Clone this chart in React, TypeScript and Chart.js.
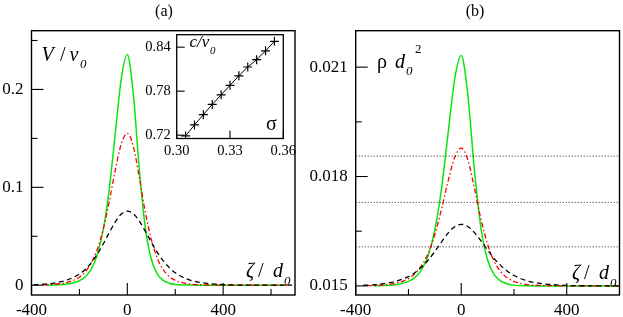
import { useEffect, useRef } from 'react';
import { Chart, registerables } from 'chart.js';
Chart.register(...registerables);

const SERIF = '"Liberation Serif", "Times New Roman", Times, serif';

// ---------- panel (a): V / v0 versus zeta / d0 ----------
const zetaA = [-392, -350, -337, -300, -250, -200, -175, -150, -125, -100, -75, -50, -25, 0, 25, 50, 75, 100, 125, 150, 175, 200, 250, 300, 400, 500, 600, 660, 675, 688];
const velBlack = [0.0004, 0.0011, 0.0013, 0.0025, 0.0054, 0.0114, 0.0164, 0.0231, 0.0318, 0.0423, 0.0539, 0.0648, 0.0727, 0.0757, 0.073, 0.0655, 0.0552, 0.0441, 0.0336, 0.0249, 0.018, 0.0128, 0.0062, 0.003, 0.0006, 0.0001, 0, 0, 0, 0];
const velRed = [null, 0.0003, 0.0004, 0.001, 0.0029, 0.0082, 0.0138, 0.023, 0.0369, 0.0579, 0.086, 0.1178, 0.1445, 0.1552, 0.142, 0.1101, 0.0748, 0.0469, 0.0276, 0.0158, 0.0089, 0.005, 0.0015, 0.0005, 0.0001, 0, 0, 0, 0, null];
const velGreen = [null, null, 0.0001, 0.0003, 0.0012, 0.0046, 0.0087, 0.0167, 0.0314, 0.0572, 0.099, 0.1555, 0.2114, 0.2357, 0.1955, 0.1186, 0.059, 0.0265, 0.0115, 0.0049, 0.002, 0.0008, 0.0001, 0, 0, 0, 0, 0, null, null];
const xTicksA = [-400, 0, 400];
const xTickLabelsA = ['-400', '0', '400'];
const xMinorA = [-200, 200, 600];
const yTicksA = [0, 0.1, 0.2];
const yTickLabelsA = ['0', '0.1', '0.2'];
const yMinorA = [0.05, 0.15, 0.25];

// ---------- panel (b): rho d0^2 versus zeta / d0 ----------
const zetaB = [-371, -358, -333, -300, -250, -200, -175, -150, -125, -100, -75, -50, -25, 0, 25, 50, 75, 100, 125, 150, 175, 200, 250, 300, 400, 500, 600];
const rhoBlack = [0.015018, 0.01502, 0.015029, 0.015056, 0.015121, 0.015255, 0.015366, 0.015516, 0.01571, 0.015944, 0.016203, 0.016447, 0.016623, 0.01669, 0.01663, 0.016462, 0.016232, 0.015985, 0.01575, 0.015556, 0.015402, 0.015286, 0.015138, 0.015067, 0.015013, 0.015002, 0.015];
const rhoRed = [null, 0.015007, 0.01501, 0.015024, 0.015071, 0.0152, 0.015336, 0.01556, 0.015899, 0.01641, 0.017095, 0.017869, 0.018519, 0.01878, 0.018459, 0.017682, 0.016822, 0.016142, 0.015672, 0.015385, 0.015217, 0.015122, 0.015037, 0.015012, 0.015002, 0.015, 0.015];
const rhoGreen = [null, null, 0.015003, 0.015008, 0.015032, 0.015123, 0.015233, 0.015448, 0.015842, 0.016534, 0.017654, 0.019169, 0.020668, 0.02132, 0.020242, 0.01818, 0.016582, 0.015711, 0.015308, 0.015131, 0.015054, 0.015021, 0.015003, 0.015, 0.015, 0.015, 0.015];
const rhoLevels = [0.01856, 0.01729, 0.01607];
const levelSpan = [-400, 600];
const xTicksB = [-400, 0, 400];
const xTickLabelsB = ['-400', '0', '400'];
const xMinorB = [-200, 200];
const yTicksB = [0.015, 0.018, 0.021];
const yTickLabelsB = ['0.015', '0.018', '0.021'];
const yMinorB = [0.0165, 0.0195];

// ---------- inset: c / v0 versus sigma ----------
const sigma = [0.305, 0.31, 0.315, 0.32, 0.325, 0.33, 0.335, 0.34, 0.345, 0.35, 0.355];
const speed = [0.719, 0.734, 0.748, 0.762, 0.775, 0.788, 0.801, 0.813, 0.823, 0.835, 0.848];
const xTicksIn = [0.30, 0.33, 0.36];
const xTickLabelsIn = ['0.30', '0.33', '0.36'];
const yTicksIn = [0.72, 0.78, 0.84];
const yTickLabelsIn = ['0.72', '0.78', '0.84'];

type Run = { t: string; x: number; y: number; size: number; italic?: boolean; align?: CanvasTextAlign };
type Deco = {
  xMajor: number[]; xMinor: number[]; yMajor: number[]; yMinor: number[];
  major: number; minor: number; frame: number; runs: Run[];
};

function decoPlugin(d: Deco) {
  return {
    id: 'deco',
    afterDraw(chart: any) {
      const { ctx, chartArea: a, scales } = chart;
      const xs = scales.x;
      const ys = scales.y;
      ctx.save();
      ctx.strokeStyle = '#000';
      ctx.lineWidth = 1.1;
      const xt: [number[], number][] = [[d.xMajor, d.major], [d.xMinor, d.minor]];
      for (const [list, len] of xt) {
        for (const v of list) {
          const px = xs.getPixelForValue(v);
          ctx.beginPath();
          ctx.moveTo(px, a.bottom);
          ctx.lineTo(px, a.bottom - len);
          ctx.stroke();
        }
      }
      const yt: [number[], number][] = [[d.yMajor, d.major], [d.yMinor, d.minor]];
      for (const [list, len] of yt) {
        for (const v of list) {
          const py = ys.getPixelForValue(v);
          ctx.beginPath();
          ctx.moveTo(a.left, py);
          ctx.lineTo(a.left + len, py);
          ctx.stroke();
        }
      }
      ctx.lineWidth = d.frame;
      ctx.strokeRect(a.left, a.top, a.right - a.left, a.bottom - a.top);
      ctx.fillStyle = '#000';
      ctx.textBaseline = 'alphabetic';
      for (const r of d.runs) {
        ctx.font = `${r.italic ? 'italic ' : ''}${r.size}px ${SERIF}`;
        ctx.textAlign = r.align || 'left';
        ctx.fillText(r.t, r.x, r.y);
      }
      ctx.restore();
    },
  };
}

function axis(min: number, max: number, ticks: number[], labels: string[], size: number, pad: number, fit: (s: any) => void) {
  return {
    type: 'linear' as const,
    min,
    max,
    grid: { display: false, drawTicks: false },
    border: { display: false },
    ticks: {
      padding: pad,
      color: '#000',
      autoSkip: false,
      maxRotation: 0,
      font: { size, family: SERIF },
      callback: (_v: any, i: number) => labels[i],
    },
    afterBuildTicks: (s: any) => {
      s.ticks = ticks.map((v) => ({ value: v }));
    },
    afterFit: fit,
  };
}

function lineDs(xs: number[], ys: (number | null)[], color: string, dash: number[], width: number) {
  return {
    data: xs.map((x, i) => ({ x, y: ys[i] })),
    borderColor: color,
    borderDash: dash,
    borderWidth: width,
    pointRadius: 0,
    fill: false,
    cubicInterpolationMode: 'monotone' as const,
  };
}

const BLACK_DASH = [5, 3.5];
const RED_DASH = [5, 2.5, 1.5, 2.5];
const GREEN = 'rgb(10,230,10)';

export default function App() {
  const refA = useRef<HTMLCanvasElement>(null);
  const refB = useRef<HTMLCanvasElement>(null);
  const refI = useRef<HTMLCanvasElement>(null);

  useEffect(() => {
    const common = {
      responsive: false,
      animation: false as const,
      devicePixelRatio: 1,
      plugins: { legend: { display: false }, tooltip: { enabled: false }, title: { display: false } },
    };

    const chartA = new Chart(refA.current!, {
      type: 'line',
      data: {
        datasets: [
          lineDs(zetaA, velBlack, '#000', BLACK_DASH, 1.3),
          lineDs(zetaA, velRed, '#ff0000', RED_DASH, 1.3),
          lineDs(zetaA, velGreen, GREEN, [], 1.5),
        ],
      },
      options: {
        ...common,
        layout: { padding: { top: 30.7, right: 15, left: 0, bottom: 0 } },
        scales: {
          x: axis(-400, 700, xTicksA, xTickLabelsA, 17, 5, (s: any) => { s.height = 22; }),
          y: axis(-0.01, 0.26, yTicksA, yTickLabelsA, 17, 8, (s: any) => { s.width = 31.5; }),
        },
      },
      plugins: [decoPlugin({
        xMajor: xTicksA, xMinor: xMinorA, yMajor: yTicksA, yMinor: yMinorA,
        major: 12, minor: 6, frame: 1.4,
        runs: [
          { t: '(a)', x: 164, y: 15.5, size: 16, align: 'center' },
          { t: 'V', x: 41.5, y: 60.5, size: 20, italic: true },
          { t: '/', x: 60, y: 60.5, size: 20 },
          { t: 'v', x: 69.5, y: 60.5, size: 20, italic: true },
          { t: '0', x: 80, y: 68, size: 13, italic: true },
          { t: 'ζ', x: 246, y: 277, size: 20, italic: true },
          { t: '/', x: 258, y: 277, size: 20 },
          { t: 'd', x: 273, y: 277, size: 20, italic: true },
          { t: '0', x: 284, y: 285, size: 13, italic: true },
        ],
      })],
    } as any);

    const levelDs = rhoLevels.map((lv) => ({
      data: levelSpan.map((x) => ({ x, y: lv })),
      borderColor: '#222',
      borderDash: [1, 2],
      borderWidth: 1,
      pointRadius: 0,
      fill: false,
    }));

    const chartB = new Chart(refB.current!, {
      type: 'line',
      data: {
        datasets: [
          ...levelDs,
          lineDs(zetaB, rhoBlack, '#000', BLACK_DASH, 1.3),
          lineDs(zetaB, rhoRed, '#ff0000', RED_DASH, 1.3),
          lineDs(zetaB, rhoGreen, GREEN, [], 1.5),
        ],
      },
      options: {
        ...common,
        layout: { padding: { top: 30.7, right: 3.5, left: 0, bottom: 0 } },
        scales: {
          x: axis(-400, 600, xTicksB, xTickLabelsB, 17, 5, (s: any) => { s.height = 22; }),
          y: axis(0.01475, 0.022, yTicksB, yTickLabelsB, 17, 8, (s: any) => { s.width = 55.7; }),
        },
      },
      plugins: [decoPlugin({
        xMajor: xTicksB, xMinor: xMinorB, yMajor: yTicksB, yMinor: yMinorB,
        major: 12, minor: 6, frame: 1.4,
        runs: [
          { t: '(b)', x: 175, y: 15.5, size: 16, align: 'center' },
          { t: 'ρ', x: 77, y: 68, size: 20 },
          { t: 'd', x: 95, y: 68, size: 20, italic: true },
          { t: '0', x: 106, y: 75, size: 13, italic: true },
          { t: '2', x: 115, y: 53, size: 13 },
          { t: 'ζ', x: 272, y: 279, size: 20, italic: true },
          { t: '/', x: 284, y: 279, size: 20 },
          { t: 'd', x: 299, y: 279, size: 20, italic: true },
          { t: '0', x: 310, y: 287, size: 13, italic: true },
        ],
      })],
    } as any);

    const chartI = new Chart(refI.current!, {
      type: 'line',
      data: {
        datasets: [{
          data: sigma.map((x, i) => ({ x, y: speed[i] })),
          borderColor: '#000',
          borderWidth: 1,
          pointStyle: 'cross',
          pointRadius: 4.5,
          pointBorderColor: '#000',
          pointBorderWidth: 1.2,
          fill: false,
          tension: 0,
        }],
      },
      options: {
        ...common,
        layout: { padding: { top: 13.3, right: 16.7, left: 0, bottom: 0 } },
        scales: {
          x: axis(0.30, 0.36, xTicksIn, xTickLabelsIn, 14.5, 4, (s: any) => { s.height = 31.5; }),
          y: axis(0.7155, 0.857, yTicksIn, yTickLabelsIn, 14.5, 6, (s: any) => { s.width = 46.7; }),
        },
      },
      plugins: [decoPlugin({
        xMajor: xTicksIn, xMinor: [], yMajor: yTicksIn, yMinor: [],
        major: 8, minor: 4, frame: 1.3,
        runs: [
          { t: 'c/v', x: 59.5, y: 26.5, size: 17, italic: true },
          { t: '0', x: 80, y: 33.5, size: 11, italic: true },
          { t: 'σ', x: 136, y: 110, size: 20 },
        ],
      })],
    } as any);

    return () => {
      chartA.destroy();
      chartB.destroy();
      chartI.destroy();
    };
  }, []);

  return (
    <div style={{ position: 'absolute', left: 0, top: 0, width: 623, height: 317, background: '#fff', overflow: 'hidden' }}>
      <canvas ref={refA} width={310} height={317} style={{ position: 'absolute', left: 0, top: 0, width: 310, height: 317 }} />
      <canvas ref={refB} width={323} height={317} style={{ position: 'absolute', left: 300, top: 0, width: 323, height: 317 }} />
      <canvas ref={refI} width={170} height={150} style={{ position: 'absolute', left: 130, top: 20, width: 170, height: 150 }} />
    </div>
  );
}
